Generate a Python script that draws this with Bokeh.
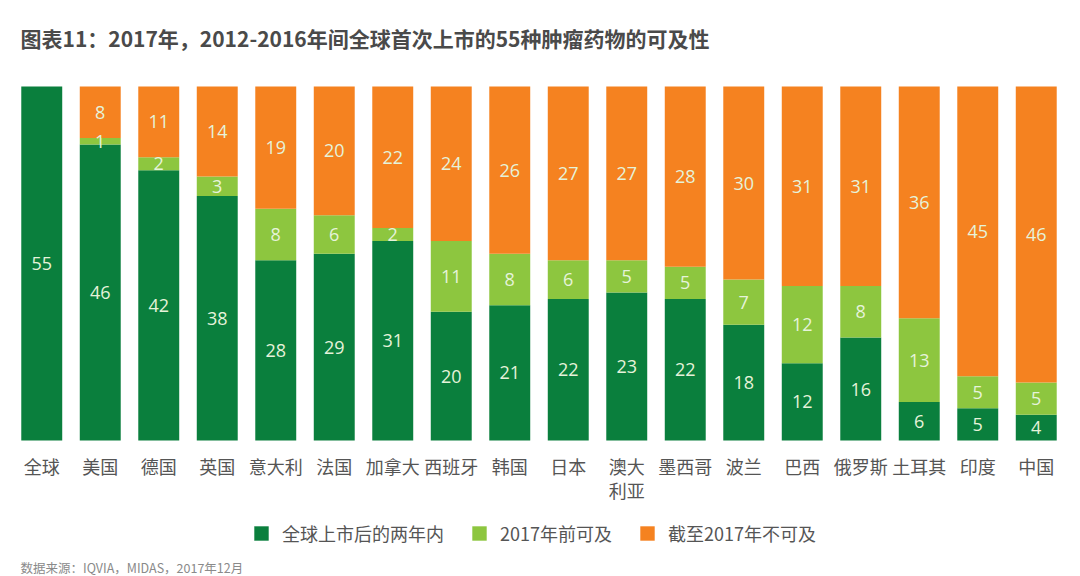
from bokeh.plotting import figure
from bokeh.models import ColumnDataSource, FactorRange, Range1d, Legend, LegendItem, Label
from bokeh.core.properties import value
from bokeh.embed import file_html
from bokeh.resources import INLINE

countries = ["全球", "美国", "德国", "英国", "意大利", "法国", "加拿大", "西班牙", "韩国",
             "日本", "澳大\n利亚", "墨西哥", "波兰", "巴西", "俄罗斯", "土耳其", "印度", "中国"]
within_two_years = [55, 46, 42, 38, 28, 29, 31, 20, 21, 22, 23, 22, 18, 12, 16, 6, 5, 4]
available_before_2017 = [0, 1, 2, 3, 8, 6, 2, 11, 8, 6, 5, 5, 7, 12, 8, 13, 5, 5]
not_available = [0, 8, 11, 14, 19, 20, 22, 24, 26, 27, 27, 28, 30, 31, 31, 36, 45, 46]

series_names = ["全球上市后的两年内", "2017年前可及", "截至2017年不可及"]
title_text = "图表11：2017年，2012-2016年间全球首次上市的55种肿瘤药物的可及性"
source_text = "数据来源：IQVIA，MIDAS，2017年12月"

colors = ["#0a7f3d", "#8dc63f", "#f58220"]
CJK = "Noto Sans CJK SC"

# layout (pixels): frame spans the full height so that title/legend/source fit inside it
W, H = 1072, 576
TOP_PX, BASE_PX = 86, 440          # pixel rows of value 55 and value 0
VMAX = 55
ppu = (BASE_PX - TOP_PX) / VMAX
y_start = -(H - BASE_PX) / ppu
y_end = VMAX + TOP_PX / ppu

src = ColumnDataSource(dict(country=countries, a=within_two_years,
                            b=available_before_2017, c=not_available))

p = figure(x_range=FactorRange(factors=countries, range_padding=0),
           y_range=Range1d(y_start, y_end),
           width=W, height=H, output_backend="svg", toolbar_location=None,
           y_axis_location=None, title=None,
           min_border_left=12, min_border_right=7, min_border_top=0, min_border_bottom=0)
p.outline_line_color = None
p.xgrid.grid_line_color = None
p.ygrid.grid_line_color = None
p.background_fill_color = "white"
p.border_fill_color = "white"

renderers = p.vbar_stack(["a", "b", "c"], x="country", width=0.70, color=colors,
                         line_color=None, source=src)

# segment labels
lab_x, lab_y, lab_t = [], [], []
for i, c in enumerate(countries):
    base = 0
    for v in (within_two_years[i], available_before_2017[i], not_available[i]):
        if v > 0:
            lab_x.append(c)
            lab_y.append(base + v / 2)
            lab_t.append(str(v))
        base += v
lsrc = ColumnDataSource(dict(x=lab_x, y=lab_y, t=lab_t))
p.text(x="x", y="y", text="t", source=lsrc, text_align="center", text_baseline="middle",
       text_font=value("Open Sans"), text_font_size="18px", text_color="#e6f3da")

ax = p.xaxis[0]
ax.fixed_location = 0
ax.axis_line_color = None
ax.major_tick_line_color = None
ax.minor_tick_line_color = None
ax.major_label_standoff = 6
ax.major_label_text_font = CJK
ax.major_label_text_font_size = "18px"
ax.major_label_text_color = "#555555"
ax.major_label_text_line_height = 0.95

legend = Legend(items=[LegendItem(label=n, renderers=[r]) for n, r in zip(series_names, renderers)],
                orientation="horizontal", location=(240, 30), padding=0, margin=0,
                spacing=26, label_standoff=12, glyph_width=18, glyph_height=18,
                label_height=18, border_line_color=None, background_fill_alpha=0,
                label_text_font=CJK, label_text_font_size="18px", label_text_color="#555555")
p.add_layout(legend, "center")

p.add_layout(Label(x=8, y=H - 37, x_units="screen", y_units="screen", text=title_text,
                   text_font=CJK, text_font_size="21px", text_font_style="bold",
                   text_color="#4a4a4a", text_baseline="middle"))
p.add_layout(Label(x=8, y=H - 567, x_units="screen", y_units="screen", text=source_text,
                   text_font=CJK, text_font_size="12.5px",
                   text_color="#8a8a8a", text_baseline="middle"))

open("out.html", "w").write(file_html(p, INLINE))
